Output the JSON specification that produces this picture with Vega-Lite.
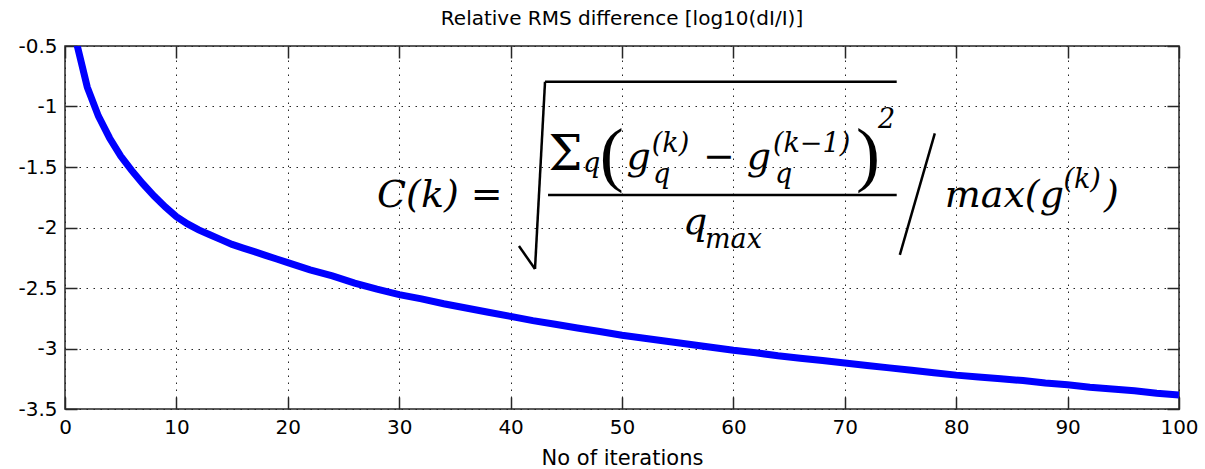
{
  "$schema": "https://vega.github.io/schema/vega-lite/v6.json",
  "width": 1114,
  "height": 363,
  "autosize": {"type": "none"},
  "padding": {"left": 65, "top": 46, "right": 26, "bottom": 60},
  "background": "white",
  "title": {
    "text": "Relative RMS difference [log10(dI/I)]",
    "font": "DejaVu Sans",
    "fontSize": 20,
    "fontWeight": "normal",
    "color": "black",
    "anchor": "middle",
    "frame": "group",
    "baseline": "alphabetic",
    "offset": -9
  },
  "config": {
    "view": {"stroke": "#262626", "strokeWidth": 1.5},
    "axis": {
      "labelFont": "DejaVu Sans",
      "labelFontSize": 20,
      "labelColor": "black",
      "titleFont": "DejaVu Sans",
      "titleFontSize": 21,
      "titleFontWeight": "normal",
      "titleColor": "black",
      "tickColor": "#262626",
      "tickWidth": 1.5,
      "gridColor": "#262626",
      "gridDash": [1.5, 5.5],
      "gridWidth": 1,
      "gridOpacity": 1,
      "domain": false
    }
  },
  "datasets": {
    "curve": [
      {"iter": 1, "v": -0.46}, {"iter": 2, "v": -0.84}, {"iter": 3, "v": -1.08}, {"iter": 4, "v": -1.26},
      {"iter": 5, "v": -1.41}, {"iter": 6, "v": -1.53}, {"iter": 7, "v": -1.64}, {"iter": 8, "v": -1.74},
      {"iter": 9, "v": -1.83}, {"iter": 10, "v": -1.91}, {"iter": 11, "v": -1.97}, {"iter": 12, "v": -2.02},
      {"iter": 13, "v": -2.06}, {"iter": 14, "v": -2.10}, {"iter": 15, "v": -2.14}, {"iter": 16, "v": -2.17},
      {"iter": 17, "v": -2.20}, {"iter": 18, "v": -2.23}, {"iter": 19, "v": -2.26}, {"iter": 20, "v": -2.29},
      {"iter": 22, "v": -2.35}, {"iter": 24, "v": -2.40}, {"iter": 26, "v": -2.46}, {"iter": 28, "v": -2.51},
      {"iter": 30, "v": -2.555}, {"iter": 32, "v": -2.59}, {"iter": 34, "v": -2.63}, {"iter": 36, "v": -2.665},
      {"iter": 38, "v": -2.70}, {"iter": 40, "v": -2.735}, {"iter": 42, "v": -2.77}, {"iter": 44, "v": -2.80},
      {"iter": 46, "v": -2.83}, {"iter": 48, "v": -2.86}, {"iter": 50, "v": -2.89}, {"iter": 52, "v": -2.915},
      {"iter": 54, "v": -2.94}, {"iter": 56, "v": -2.965}, {"iter": 58, "v": -2.99}, {"iter": 60, "v": -3.015},
      {"iter": 62, "v": -3.035}, {"iter": 64, "v": -3.06}, {"iter": 66, "v": -3.08}, {"iter": 68, "v": -3.10},
      {"iter": 70, "v": -3.12}, {"iter": 72, "v": -3.14}, {"iter": 74, "v": -3.16}, {"iter": 76, "v": -3.18},
      {"iter": 78, "v": -3.20}, {"iter": 80, "v": -3.22}, {"iter": 82, "v": -3.235}, {"iter": 84, "v": -3.25},
      {"iter": 86, "v": -3.265}, {"iter": 88, "v": -3.285}, {"iter": 90, "v": -3.30}, {"iter": 92, "v": -3.32},
      {"iter": 94, "v": -3.335}, {"iter": 96, "v": -3.35}, {"iter": 98, "v": -3.37}, {"iter": 100, "v": -3.385}
    ],
    "eqText": [
      {"kind": "main", "t": "C(k) =", "x": 28.01, "y": -1.831},
      {"kind": "main", "t": "g", "x": 50.4, "y": -1.517},
      {"kind": "main", "t": "−", "x": 57.27, "y": -1.517},
      {"kind": "main", "t": "g", "x": 61.19, "y": -1.517},
      {"kind": "main", "t": "q", "x": 55.48, "y": -2.054},
      {"kind": "main", "t": "max(g", "x": 78.97, "y": -1.831},
      {"kind": "main", "t": ")", "x": 93.27, "y": -1.831},
      {"kind": "small", "t": "q", "x": 46.5, "y": -1.541},
      {"kind": "small", "t": "(k)", "x": 52.67, "y": -1.372},
      {"kind": "small", "t": "q", "x": 52.78, "y": -1.629},
      {"kind": "small", "t": "(k−1)", "x": 63.55, "y": -1.372},
      {"kind": "small", "t": "q", "x": 63.73, "y": -1.629},
      {"kind": "small", "t": "2", "x": 72.98, "y": -1.178},
      {"kind": "small", "t": "max", "x": 57.45, "y": -2.169},
      {"kind": "small", "t": "(k)", "x": 89.63, "y": -1.674},
      {"kind": "sigma", "t": "Σ", "x": 43.4, "y": -1.525},
      {"kind": "paren", "t": "(", "x": 48.0, "y": -1.587},
      {"kind": "paren", "t": ")", "x": 71.0, "y": -1.587}
    ],
    "eqLines": [
      {"x": 40.75, "y": -2.153, "x2": 42.19, "y2": -2.343},
      {"x": 42.19, "y": -2.343, "x2": 43.09, "y2": -0.795},
      {"x": 43.09, "y": -0.795, "x2": 74.66, "y2": -0.795},
      {"x": 43.36, "y": -1.731, "x2": 74.66, "y2": -1.731},
      {"x": 74.94, "y": -2.227, "x2": 78.08, "y2": -1.222}
    ]
  },
  "layer": [
    {
      "data": {"name": "curve"},
      "mark": {"type": "line", "color": "#0000ff", "strokeWidth": 7, "clip": true},
      "encoding": {
        "x": {
          "field": "iter", "type": "quantitative",
          "scale": {"domain": [0, 100], "nice": false, "zero": false},
          "axis": {
            "orient": "bottom", "values": [0, 10, 20, 30, 40, 50, 60, 70, 80, 90, 100],
            "title": "No of iterations", "grid": true, "tickSize": -12, "labelPadding": 20,
            "titlePadding": 10, "format": "d", "labelFlush": false, "labelOverlap": false
          }
        },
        "y": {
          "field": "v", "type": "quantitative",
          "scale": {"domain": [-3.5, -0.5], "nice": false, "zero": false},
          "axis": {
            "orient": "left", "values": [-3.5, -3, -2.5, -2, -1.5, -1, -0.5],
            "title": null, "grid": true, "tickSize": -12, "labelPadding": 20,
            "format": "~g", "labelExpr": "replace(datum.label, '−', '-')",
            "labelFlush": false, "labelOverlap": false
          }
        }
      }
    },
    {
      "data": {"name": "curve"},
      "mark": {"type": "point", "opacity": 0},
      "encoding": {
        "x": {
          "field": "iter", "type": "quantitative",
          "scale": {"domain": [0, 100], "nice": false, "zero": false},
          "axis": {
            "orient": "top", "values": [0, 10, 20, 30, 40, 50, 60, 70, 80, 90, 100],
            "title": null, "labels": false, "grid": false, "tickSize": -12
          }
        },
        "y": {
          "field": "v", "type": "quantitative",
          "scale": {"domain": [-3.5, -0.5], "nice": false, "zero": false},
          "axis": {
            "orient": "right", "values": [-3.5, -3, -2.5, -2, -1.5, -1, -0.5],
            "title": null, "labels": false, "grid": false, "tickSize": -12
          }
        }
      }
    },
    {
      "data": {"name": "eqLines"},
      "mark": {"type": "rule", "color": "black", "strokeWidth": 2.5},
      "encoding": {
        "x": {"field": "x", "type": "quantitative", "scale": {"domain": [0, 100], "nice": false, "zero": false}, "axis": null},
        "y": {"field": "y", "type": "quantitative", "scale": {"domain": [-3.5, -0.5], "nice": false, "zero": false}, "axis": null},
        "x2": {"field": "x2"},
        "y2": {"field": "y2"}
      }
    },
    {
      "data": {"name": "eqText"},
      "transform": [{"filter": "datum.kind === 'main'"}],
      "mark": {"type": "text", "align": "left", "baseline": "alphabetic", "font": "DejaVu Serif", "fontStyle": "italic", "fontSize": 38, "color": "black"},
      "encoding": {
        "x": {"field": "x", "type": "quantitative", "scale": {"domain": [0, 100], "nice": false, "zero": false}, "axis": null},
        "y": {"field": "y", "type": "quantitative", "scale": {"domain": [-3.5, -0.5], "nice": false, "zero": false}, "axis": null},
        "text": {"field": "t"}
      }
    },
    {
      "data": {"name": "eqText"},
      "transform": [{"filter": "datum.kind === 'small'"}],
      "mark": {"type": "text", "align": "left", "baseline": "alphabetic", "font": "DejaVu Serif", "fontStyle": "italic", "fontSize": 27, "color": "black"},
      "encoding": {
        "x": {"field": "x", "type": "quantitative", "scale": {"domain": [0, 100], "nice": false, "zero": false}, "axis": null},
        "y": {"field": "y", "type": "quantitative", "scale": {"domain": [-3.5, -0.5], "nice": false, "zero": false}, "axis": null},
        "text": {"field": "t"}
      }
    },
    {
      "data": {"name": "eqText"},
      "transform": [{"filter": "datum.kind === 'sigma'"}],
      "mark": {"type": "text", "align": "left", "baseline": "alphabetic", "font": "DejaVu Serif", "fontSize": 48, "color": "black"},
      "encoding": {
        "x": {"field": "x", "type": "quantitative", "scale": {"domain": [0, 100], "nice": false, "zero": false}, "axis": null},
        "y": {"field": "y", "type": "quantitative", "scale": {"domain": [-3.5, -0.5], "nice": false, "zero": false}, "axis": null},
        "text": {"field": "t"}
      }
    },
    {
      "data": {"name": "eqText"},
      "transform": [{"filter": "datum.kind === 'paren'"}],
      "mark": {"type": "text", "align": "left", "baseline": "alphabetic", "font": "Liberation Serif", "fontSize": 72, "color": "black"},
      "encoding": {
        "x": {"field": "x", "type": "quantitative", "scale": {"domain": [0, 100], "nice": false, "zero": false}, "axis": null},
        "y": {"field": "y", "type": "quantitative", "scale": {"domain": [-3.5, -0.5], "nice": false, "zero": false}, "axis": null},
        "text": {"field": "t"}
      }
    }
  ],
  "resolve": {"axis": {"x": "independent", "y": "independent"}}
}
